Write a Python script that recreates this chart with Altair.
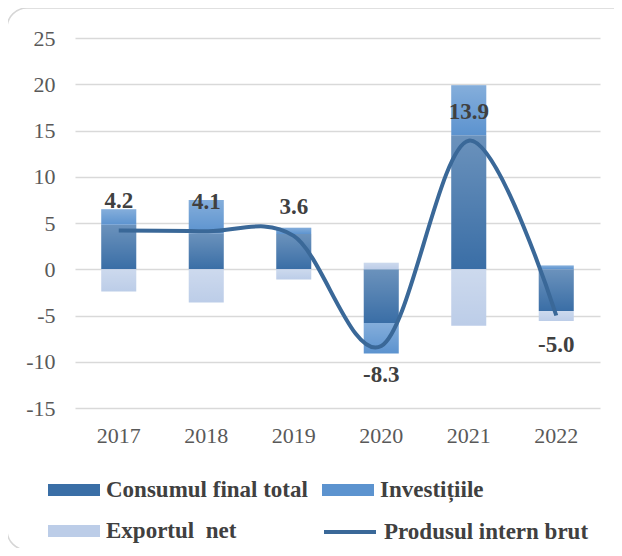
import altair as alt
import pandas as pd

years = ["2017", "2018", "2019", "2020", "2021", "2022"]
consum = [4.8, 3.9, 3.8, -5.8, 14.5, -4.5]
investitii = [1.7, 3.6, 0.7, -3.3, 5.4, 0.4]
export_net = [-2.4, -3.6, -1.1, 0.7, -6.1, -1.1]
pib = [4.2, 4.1, 3.6, -8.3, 13.9, -5.0]

bar_series = ["Consumul final total", "Investițiile", "Exportul\u00a0 net"]
bar_colors = ["#3a6ea6", "#5c93cf", "#bccde8"]
line_series = ["Produsul intern brut"]
line_colors = ["#3a6898"]

rows = []
for i, y in enumerate(years):
    rows.append({"year": y, "series": bar_series[0], "value": consum[i], "ord": 0})
    rows.append({"year": y, "series": bar_series[1], "value": investitii[i], "ord": 1})
    rows.append({"year": y, "series": bar_series[2], "value": export_net[i], "ord": 2})
bars_df = pd.DataFrame(rows)
pib_df = pd.DataFrame({"year": years, "value": pib, "series": line_series[0]})
pib_df["label"] = [f"{v:.1f}" for v in pib]

FONT = "Liberation Serif"

x_enc = alt.X("year:N", title=None,
              scale=alt.Scale(paddingInner=0.6, paddingOuter=0.3),
              axis=alt.Axis(labelAngle=0, ticks=False, domain=False, grid=False,
                            labelFont=FONT, labelFontSize=22, labelColor="#595959",
                            labelPadding=17))
y_scale = alt.Scale(domain=[-15, 25], nice=False)

common_leg = dict(
    title=None, orient="none", labelFont=FONT, labelFontSize=23, labelFontWeight="bold",
    labelColor="#404040", labelOffset=6, symbolSize=2704, labelLimit=400,
    direction="horizontal",
)

bar_legend = alt.Legend(
    legendX=-27, legendY=426, columns=2, columnPadding=14, rowPadding=3,
    symbolType="M-1,-0.23H1V0.23H-1Z", symbolStrokeWidth=0, symbolOpacity=1,
    **common_leg,
)
line_legend = alt.Legend(
    legendX=247, legendY=466,
    symbolType="M-1,0H1", symbolStrokeWidth=4, symbolOpacity=1,
    **common_leg,
)

border = alt.Chart(pd.DataFrame({"a": [0]})).mark_rect(
    fill="transparent", stroke="#d6d6d6", strokeWidth=1.5, cornerRadius=20
).encode(x=alt.value(-68), x2=alt.value(560), y=alt.value(-30), y2=alt.value(512))

y_bar = alt.Y("value:Q", title=None, scale=y_scale, stack="zero",
              axis=alt.Axis(values=list(range(-15, 30, 5)), ticks=False, domain=False,
                            gridColor="#d9d9d9", gridWidth=1.5,
                            labelExpr="toString(datum.value)",
                            labelFont=FONT, labelFontSize=22, labelColor="#595959",
                            labelPadding=20))

bars = alt.Chart(bars_df).mark_bar().encode(
    x=x_enc,
    y=y_bar,
    fill=alt.Fill("series:N", scale=alt.Scale(domain=bar_series, range=bar_colors),
                  legend=bar_legend, sort=bar_series),
    order=alt.Order("ord:Q"),
)

shine = alt.Chart(bars_df).mark_bar(
    fill=alt.LinearGradient(
        gradient="linear", x1=0, x2=0, y1=0, y2=1,
        stops=[alt.GradientStop(color="rgba(255,255,255,0.25)", offset=0),
               alt.GradientStop(color="rgba(255,255,255,0)", offset=1)],
    )
).encode(
    x=x_enc,
    y=alt.Y("value:Q", scale=y_scale, stack="zero"),
    detail="series:N",
    order=alt.Order("ord:Q"),
)

line = alt.Chart(pib_df).mark_line(interpolate="cardinal", strokeWidth=4).encode(
    x=x_enc,
    y=alt.Y("value:Q", scale=y_scale),
    stroke=alt.Stroke("series:N", scale=alt.Scale(domain=line_series, range=line_colors),
                      legend=line_legend),
)

lab_pos = alt.Chart(pib_df).transform_filter("datum.value >= 0").mark_text(
    font=FONT, fontSize=23, fontWeight="bold", color="#404040", dy=-29, baseline="middle"
).encode(x=x_enc, y=alt.Y("value:Q", scale=y_scale), text="label:N")

lab_neg = alt.Chart(pib_df).transform_filter("datum.value < 0").mark_text(
    font=FONT, fontSize=23, fontWeight="bold", color="#404040", dy=29, baseline="middle"
).encode(x=x_enc, y=alt.Y("value:Q", scale=y_scale), text="label:N")

chart = alt.layer(border, bars, shine, line, lab_pos, lab_neg).properties(
    width=525, height=370,
    autosize=alt.AutoSizeParams(type="none"),
    padding={"left": 67, "top": 30, "right": 14, "bottom": 140},
    background="white",
).resolve_scale(fill="independent", stroke="independent").configure_view(strokeWidth=0)

chart.save("out.html", embed_options={"renderer": "svg", "actions": False})
